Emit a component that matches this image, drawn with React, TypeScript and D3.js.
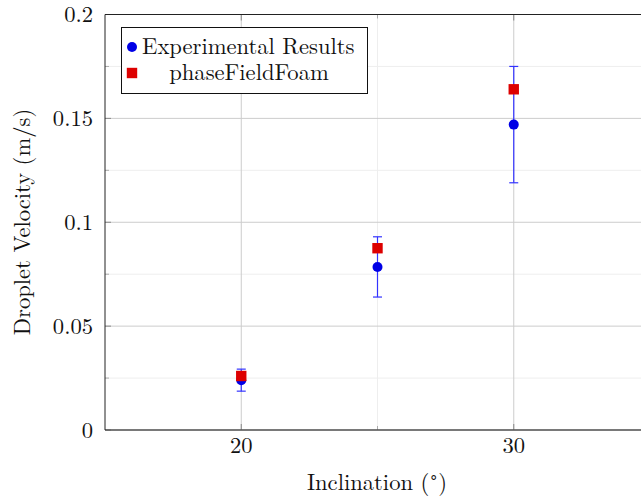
import React from "react";
import * as d3 from "d3";

// Droplet velocity versus inclination angle
const inclinations = [20, 25, 30];
const experimental = [0.024, 0.0785, 0.147];
const experimentalErr = [0.0053, 0.0145, 0.028];
const phaseFieldFoam = [0.026, 0.0875, 0.164];

const xMajorTicks = [20, 30];
const xMinorTicks = [25];
const yMajorTicks = [0, 0.05, 0.1, 0.15, 0.2];
const yMinorTicks = [0.025, 0.075, 0.125, 0.175];
const yTickLabels = ["0", "0.05", "0.1", "0.15", "0.2"];

const W = 641;
const H = 499;
const margin = { left: 105, top: 14.5, right: 650, bottom: 430 };
const FONT = "Latin Modern Roman, Liberation Serif, serif";
const FS = 22.6;
const R = 5;
const SQ = 10.4;

export default function App() {
  const x = d3.scaleLinear().domain([15, 35]).range([margin.left, margin.right]);
  const y = d3.scaleLinear().domain([0, 0.2]).range([margin.bottom, margin.top]);
  const txt = { fontFamily: FONT, fontSize: FS, fill: "#111" } as React.CSSProperties;

  return (
    <svg
      width={W}
      height={H}
      style={{ position: "absolute", left: 0, top: 0, background: "#fff" }}
    >
      {/* minor grid */}
      {yMinorTicks.map((t) => (
        <line key={"ym" + t} x1={margin.left} x2={margin.right} y1={y(t)} y2={y(t)} stroke="#eeeeee" strokeWidth={1} />
      ))}
      {xMinorTicks.map((t) => (
        <line key={"xm" + t} x1={x(t)} x2={x(t)} y1={margin.top} y2={margin.bottom} stroke="#eeeeee" strokeWidth={1} />
      ))}
      {/* major grid */}
      {yMajorTicks.map((t) => (
        <line key={"yM" + t} x1={margin.left} x2={margin.right} y1={y(t)} y2={y(t)} stroke="#cccccc" strokeWidth={1} />
      ))}
      {xMajorTicks.map((t) => (
        <line key={"xM" + t} x1={x(t)} x2={x(t)} y1={margin.top} y2={margin.bottom} stroke="#cccccc" strokeWidth={1} />
      ))}

      {/* tick marks */}
      {xMajorTicks.map((t) => (
        <g key={"xt" + t} stroke="#888" strokeWidth={1}>
          <line x1={x(t)} x2={x(t)} y1={margin.bottom} y2={margin.bottom - 6} />
          <line x1={x(t)} x2={x(t)} y1={margin.top} y2={margin.top + 6} />
        </g>
      ))}
      {xMinorTicks.map((t) => (
        <g key={"xmt" + t} stroke="#999" strokeWidth={0.8}>
          <line x1={x(t)} x2={x(t)} y1={margin.bottom} y2={margin.bottom - 4} />
          <line x1={x(t)} x2={x(t)} y1={margin.top} y2={margin.top + 4} />
        </g>
      ))}
      {yMajorTicks.map((t) => (
        <line key={"yt" + t} x1={margin.left} x2={margin.left + 6} y1={y(t)} y2={y(t)} stroke="#888" strokeWidth={1} />
      ))}
      {yMinorTicks.map((t) => (
        <line key={"ymt" + t} x1={margin.left} x2={margin.left + 4} y1={y(t)} y2={y(t)} stroke="#999" strokeWidth={0.8} />
      ))}

      {/* axis frame */}
      <line x1={margin.left} x2={margin.right} y1={margin.top} y2={margin.top} stroke="#222" strokeWidth={1} />
      <line x1={margin.left} x2={margin.right} y1={margin.bottom} y2={margin.bottom} stroke="#555" strokeWidth={1.3} />
      <line x1={margin.left} x2={margin.left} y1={margin.top} y2={margin.bottom} stroke="#222" strokeWidth={1} />

      {/* error bars */}
      {inclinations.map((inc, i) => {
        const cx = x(inc);
        const lo = y(experimental[i] - experimentalErr[i]);
        const hi = y(experimental[i] + experimentalErr[i]);
        return (
          <g key={"err" + i} stroke="#3333ff" strokeWidth={1.2}>
            <line x1={cx} x2={cx} y1={lo} y2={hi} />
            <line x1={cx - 4.5} x2={cx + 4.5} y1={lo} y2={lo} />
            <line x1={cx - 4.5} x2={cx + 4.5} y1={hi} y2={hi} />
          </g>
        );
      })}

      {/* experimental points */}
      {inclinations.map((inc, i) => (
        <circle key={"e" + i} cx={x(inc)} cy={y(experimental[i])} r={R} fill="#0000e6" />
      ))}
      {/* simulation points */}
      {inclinations.map((inc, i) => (
        <rect key={"p" + i} x={x(inc) - SQ / 2} y={y(phaseFieldFoam[i]) - SQ / 2} width={SQ} height={SQ} fill="#dd0000" />
      ))}

      {/* tick labels */}
      {xMajorTicks.map((t) => (
        <text key={"xl" + t} x={x(t)} y={453} textAnchor="middle" style={txt}>
          {t}
        </text>
      ))}
      {yMajorTicks.map((t, i) => (
        <text key={"yl" + t} x={93} y={y(t) + 7.5} textAnchor="end" style={txt}>
          {yTickLabels[i]}
        </text>
      ))}

      {/* axis titles */}
      <text x={377} y={490} textAnchor="middle" style={txt}>
        Inclination (<tspan dy={-8} style={{ fontSize: 15 }}>∘</tspan><tspan dy={8}>)</tspan>
      </text>
      <text transform={`translate(30,222) rotate(-90)`} textAnchor="middle" style={txt}>
        Droplet Velocity (m/s)
      </text>

      {/* legend */}
      <g>
        <rect x={121.5} y={27.5} width={246} height={66} fill="#fff" stroke="#111" strokeWidth={1} />
        <circle cx={132} cy={47} r={R} fill="#0000e6" />
        <text x={142} y={54} style={txt}>
          Experimental Results
        </text>
        <rect x={132 - SQ / 2} y={73 - SQ / 2} width={SQ} height={SQ} fill="#dd0000" />
        <text x={249} y={80} textAnchor="middle" style={txt}>
          phaseFieldFoam
        </text>
      </g>
    </svg>
  );
}
